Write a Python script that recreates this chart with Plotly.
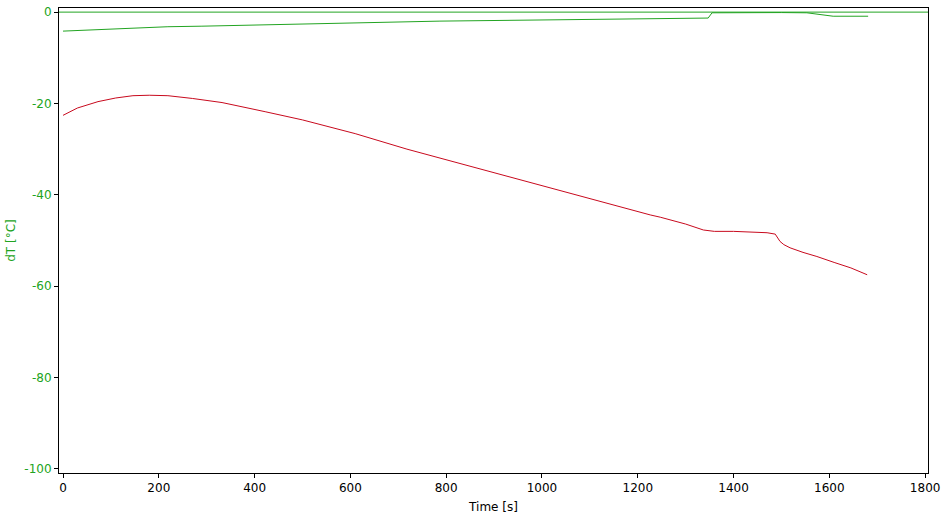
import plotly.graph_objects as go

# Red series (dT vs time)
red_time = [0, 30, 73, 110, 146, 180, 219, 270, 332, 380, 422, 500, 578, 610, 718, 820, 927, 1030, 1130, 1226, 1247, 1300, 1337, 1360, 1400, 1440, 1470, 1487, 1492, 1497, 1505, 1518, 1545, 1574, 1610, 1645, 1679]
red_vals = [-22.6, -21.0, -19.6, -18.8, -18.3, -18.2, -18.3, -18.9, -19.8, -20.8, -21.8, -23.6, -25.8, -26.6, -30.0, -32.9, -36.0, -38.9, -41.7, -44.4, -44.9, -46.4, -47.7, -48.0, -48.0, -48.1, -48.3, -48.6, -49.3, -50.2, -50.9, -51.6, -52.6, -53.5, -54.8, -56.0, -57.5]

# Green series
green_time = [0, 67, 157, 219, 290, 386, 505, 651, 787, 975, 1107, 1282, 1340, 1347, 1355, 1400, 1500, 1553, 1574, 1608, 1681]
green_vals = [-4.16, -3.87, -3.43, -3.2, -3.08, -2.85, -2.63, -2.26, -1.97, -1.75, -1.6, -1.38, -1.3, -1.3, -0.15, -0.1, -0.1, -0.15, -0.5, -0.9, -0.9]

x_ticks = [0, 200, 400, 600, 800, 1000, 1200, 1400, 1600, 1800]
y_ticks = [0, -20, -40, -60, -80, -100]

GREEN = "#22a422"
RED = "#c80a1e"

fig = go.Figure()
fig.add_trace(go.Scatter(x=green_time, y=green_vals, mode="lines",
                         line=dict(color=GREEN, width=1), showlegend=False))
fig.add_trace(go.Scatter(x=red_time, y=red_vals, mode="lines",
                         line=dict(color=RED, width=1), showlegend=False))

fig.add_shape(type="line", xref="paper", x0=0, x1=1, yref="y", y0=0, y1=0,
              line=dict(color=GREEN, width=1))

fig.update_layout(
    width=944, height=518,
    margin=dict(l=59, r=16, t=8, b=45, autoexpand=False),
    plot_bgcolor="white", paper_bgcolor="white",
    font=dict(family="DejaVu Sans", size=12, color="black"),
)
fig.update_xaxes(range=[-8.4, 1806], tickvals=x_ticks, ticktext=[str(v) for v in x_ticks],
                 automargin=False,
                 showgrid=False, zeroline=False, showline=True, linecolor="black", linewidth=1,
                 mirror=True, ticks="outside", ticklen=4, tickcolor="black",
                 tickfont=dict(size=12, color="black"),
                 title=dict(text="Time [s]", font=dict(size=12, color="black"), standoff=8))
fig.update_yaxes(range=[-100.9, 0.9], tickvals=y_ticks, ticktext=[str(v) for v in y_ticks],
                 automargin=False,
                 showgrid=False, zeroline=False, showline=True, linecolor="black", linewidth=1,
                 mirror=True, ticks="outside", ticklen=4, tickcolor="black",
                 tickfont=dict(size=12, color=GREEN),
                 title=dict(text="dT [°C]", font=dict(size=12, color=GREEN), standoff=6))

fig.write_html("out.html", config={"displayModeBar": False},
               post_script="document.body.style.margin='0';document.body.style.overflow='hidden';")
